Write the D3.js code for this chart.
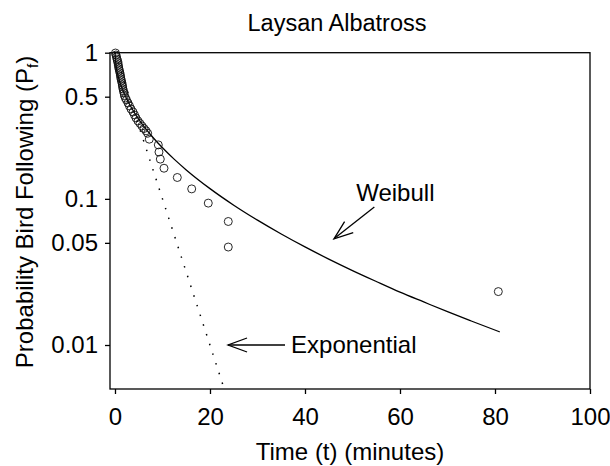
<!DOCTYPE html>
<html>
<head>
<meta charset="utf-8">
<script src="https://cdn.jsdelivr.net/npm/d3@7"></script>
<style>
  html, body { margin: 0; padding: 0; background: #fff; }
  svg { display: block; font-family: "Liberation Sans", Arial, sans-serif; }
</style>
</head>
<body>
<svg id="chart" width="610" height="466"></svg>
<script>
// ---- data ----
const obsTime = [0.1, 0.21, 0.32, 0.42, 0.53, 0.63, 0.69, 0.78, 0.84, 0.95, 1.05, 1.12, 1.2, 1.26, 1.37, 1.47, 1.54, 1.62, 1.68, 1.79, 1.89, 2.0, 2.21, 2.42, 2.74, 3.05, 3.37, 3.79, 4.11, 4.42, 4.84, 5.26, 5.68, 6.11, 6.53, 6.88, 7.22, 9.12, 9.26, 9.54, 10.32, 13.12, 16.15, 19.64, 23.85, 23.85, 80.7];
const obsProb = [0.995, 0.964, 0.935, 0.905, 0.878, 0.85, 0.824, 0.798, 0.774, 0.75, 0.727, 0.704, 0.682, 0.661, 0.641, 0.621, 0.601, 0.583, 0.565, 0.547, 0.53, 0.51, 0.49, 0.475, 0.453, 0.432, 0.412, 0.393, 0.375, 0.358, 0.341, 0.328, 0.315, 0.303, 0.292, 0.281, 0.256, 0.234, 0.209, 0.187, 0.162, 0.14, 0.117, 0.0935, 0.07, 0.0468, 0.0232];

const weibullTime = [0, 0.25, 0.5, 1, 1.5, 2, 3, 4, 5, 6, 8, 10, 12.5, 15, 20, 25, 30, 35, 40, 45, 50, 55, 60, 65, 70, 75, 81];
const weibullProb = [1, 0.799, 0.726, 0.633, 0.569, 0.52, 0.447, 0.393, 0.35, 0.316, 0.263, 0.2235, 0.1862, 0.1578, 0.1175, 0.0905, 0.0715, 0.0575, 0.0469, 0.0387, 0.0323, 0.0272, 0.023, 0.0197, 0.0169, 0.0146, 0.0123];

const expTime = [0, 23];
const expProb = [1, 0.005];

const xTicks = [0, 20, 40, 60, 80, 100];
const yTicks = [1, 0.5, 0.1, 0.05, 0.01];
const yTickLabels = ["1", "0.5", "0.1", "0.05", "0.01"];

const titleText = "Laysan Albatross";
const xTitle = "Time (t) (minutes)";
const yTitleMain = "Probability Bird Following (P";
const yTitleSub = "f";
const yTitleEnd = ")";

// annotations: [arrow tip time, prob], [arrow tail time, prob]
const weibullArrow = [[46.1, 0.0533], [54.6, 0.0878]];
const expArrow = [[23.8, 0.01], [35.8, 0.01]];

// ---- layout ----
const svg = d3.select("#chart");
const mLeft = 110, mRight = 590, mTop = 52.7, mBottom = 389;

const x = d3.scaleLinear().domain([-1.05, 100]).range([mLeft, mRight]);
const y = d3.scaleLog().domain([0.005, 1]).range([mBottom, mTop]);

const ink = "#000";
const fam = '"Liberation Sans", Arial, sans-serif';

// frame
svg.append("rect")
  .attr("x", mLeft).attr("y", mTop)
  .attr("width", mRight - mLeft).attr("height", mBottom - mTop)
  .attr("fill", "none").attr("stroke", ink).attr("stroke-width", 1.3);

// axes
const xAxis = d3.axisBottom(x).tickValues(xTicks).tickSize(5).tickPadding(14)
  .tickFormat(d3.format("d"));
const gx = svg.append("g").attr("transform", `translate(0,${mBottom})`).call(xAxis);
gx.select(".domain").remove();
gx.selectAll("line").attr("stroke", ink).attr("stroke-width", 1.3);
gx.selectAll("text").attr("font-size", 24).attr("fill", ink).attr("font-family", fam);

const yAxis = d3.axisLeft(y).tickValues(yTicks).tickSize(5).tickPadding(7)
  .tickFormat((d, i) => yTickLabels[i]);
const gy = svg.append("g").attr("transform", `translate(${mLeft},0)`).call(yAxis);
gy.select(".domain").remove();
gy.selectAll("line").attr("stroke", ink).attr("stroke-width", 1.3);
gy.selectAll("text").attr("font-size", 24).attr("fill", ink).attr("font-family", fam);

// exponential dotted line
const expData = expTime.map((t, i) => [t, expProb[i]]);
svg.append("path")
  .datum(expData)
  .attr("d", d3.line().x(d => x(d[0])).y(d => y(d[1])))
  .attr("fill", "none").attr("stroke", ink)
  .attr("stroke-width", 1.5)
  .attr("stroke-dasharray", "1.5 8.7");

// weibull curve
const wData = weibullTime.map((t, i) => [t, weibullProb[i]]);
svg.append("path")
  .datum(wData)
  .attr("d", d3.line().x(d => x(d[0])).y(d => y(d[1])).curve(d3.curveMonotoneX))
  .attr("fill", "none").attr("stroke", ink).attr("stroke-width", 1.3);

// observed points
const obs = obsTime.map((t, i) => [t, obsProb[i]]);
svg.append("g").selectAll("circle")
  .data(obs).join("circle")
  .attr("cx", d => x(d[0])).attr("cy", d => y(d[1]))
  .attr("r", 4)
  .attr("fill", "none").attr("stroke", "#111").attr("stroke-width", 0.9);

// arrows
function arrow(a, headLen, headHalf) {
  const tip = [x(a[0][0]), y(a[0][1])];
  const tail = [x(a[1][0]), y(a[1][1])];
  const dx = tail[0] - tip[0], dy = tail[1] - tip[1];
  const L = Math.hypot(dx, dy);
  const ux = dx / L, uy = dy / L, px = -uy, py = ux;
  const bx = tip[0] + ux * headLen, by = tip[1] + uy * headLen;
  const g = svg.append("g").attr("stroke", ink).attr("stroke-width", 1.3).attr("fill", "none");
  g.append("line").attr("x1", tip[0]).attr("y1", tip[1]).attr("x2", tail[0]).attr("y2", tail[1]);
  g.append("polyline").attr("points",
    `${bx + px * headHalf},${by + py * headHalf} ${tip[0]},${tip[1]} ${bx - px * headHalf},${by - py * headHalf}`);
  return { tip, tail };
}
const wa = arrow(weibullArrow, 19, 7);
const ea = arrow(expArrow, 19, 7);

svg.append("text")
  .attr("x", wa.tail[0] + 21).attr("y", wa.tail[1] - 6)
  .attr("text-anchor", "middle").attr("font-size", 24).attr("fill", ink)
  .text("Weibull");

svg.append("text")
  .attr("x", ea.tail[0] + 6).attr("y", ea.tail[1] + 8)
  .attr("text-anchor", "start").attr("font-size", 24).attr("fill", ink)
  .text("Exponential");

// titles
svg.append("text")
  .attr("x", 337).attr("y", 31)
  .attr("text-anchor", "middle").attr("font-size", 23.5).attr("fill", ink)
  .text(titleText);

svg.append("text")
  .attr("x", 350).attr("y", 460)
  .attr("text-anchor", "middle").attr("font-size", 24).attr("fill", ink)
  .text(xTitle);

const yt = svg.append("text")
  .attr("transform", `translate(33,212) rotate(-90)`)
  .attr("text-anchor", "middle").attr("font-size", 24).attr("fill", ink);
yt.append("tspan").text(yTitleMain);
yt.append("tspan").attr("font-size", 15).attr("dy", 5).text(yTitleSub);
yt.append("tspan").attr("dy", -5).text(yTitleEnd);
</script>
</body>
</html>
